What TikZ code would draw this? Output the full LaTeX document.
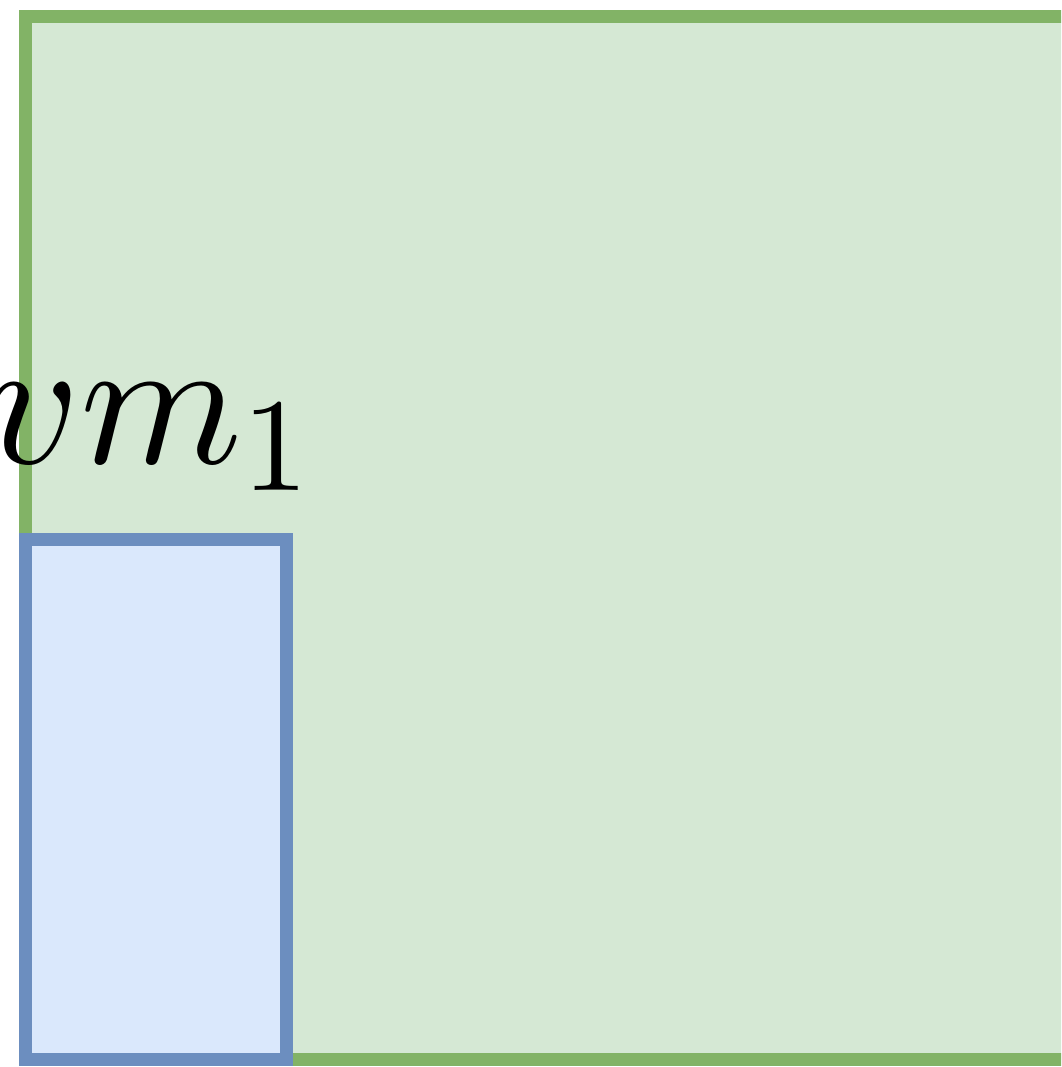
\documentclass[tikz,border=0pt]{standalone}
\usepackage{amsmath,amssymb}
\usepackage{graphicx}
\usepackage{tikz}
\usetikzlibrary{positioning}
\usepackage{xcolor}
\definecolor{hostfill}{HTML}{D5E8D4}
\definecolor{hostline}{HTML}{82B366}
\definecolor{vmfill}{HTML}{DAE8FC}
\definecolor{vmline}{HTML}{6C8EBF}
\begin{document}
\begin{tikzpicture}[x=0.02cm, y=-0.02cm,
    hostbox/.style={draw=hostline, fill=hostfill, line width=7.4pt},
    vmbox/.style={draw=vmline, fill=vmfill, line width=7.4pt}]
    % 画布
    \useasboundingbox (0,0) rectangle (1061,1067);
    \clip (0,0) rectangle (1061,1067);

    % 主机
    \draw[hostbox] (25.5,16.5) rectangle (1075,1059.5);

    % 标签
    \coordinate (labelbase) at (-19,463);
    \node[anchor=base west, inner sep=0pt, scale=10.5] (vmlabel) at (labelbase)
        {$vm_{\scalebox{0.72}{$1$}}$};

    % 虚拟机
    \draw[vmbox] (25.5,539) rectangle (286,1059);
\end{tikzpicture}
\end{document}
